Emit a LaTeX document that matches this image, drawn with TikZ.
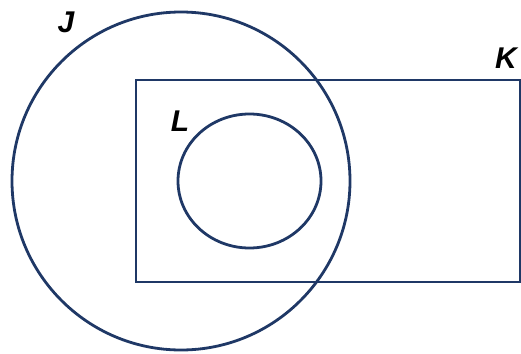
\documentclass[tikz,border=0pt]{standalone}
\usepackage{fontspec}
\setmainfont{Liberation Sans}
\definecolor{VennNavy}{HTML}{1F3866}

\begin{document}
\begin{tikzpicture}[x=1pt,y=-1pt,
  setline/.style={draw=VennNavy,line width=2.8pt},
  setname/.style={font=\fontsize{30}{36}\selectfont\bfseries\itshape,text=black}]
% picture frame in pixel units, y downwards
\useasboundingbox (0,0) rectangle (521,353);
\draw[setline] (181,181) circle[radius=169];
\draw[setline] (136,80) rectangle (520,282);
\draw[setline] (249.5,181) ellipse[x radius=71.5,y radius=67];
\node[setname] (J) at (66,22) {J};
\node[setname] (K) at (506,58) {K};
\node[setname] (L) at (180,121) {L};
\end{tikzpicture}
\end{document}
